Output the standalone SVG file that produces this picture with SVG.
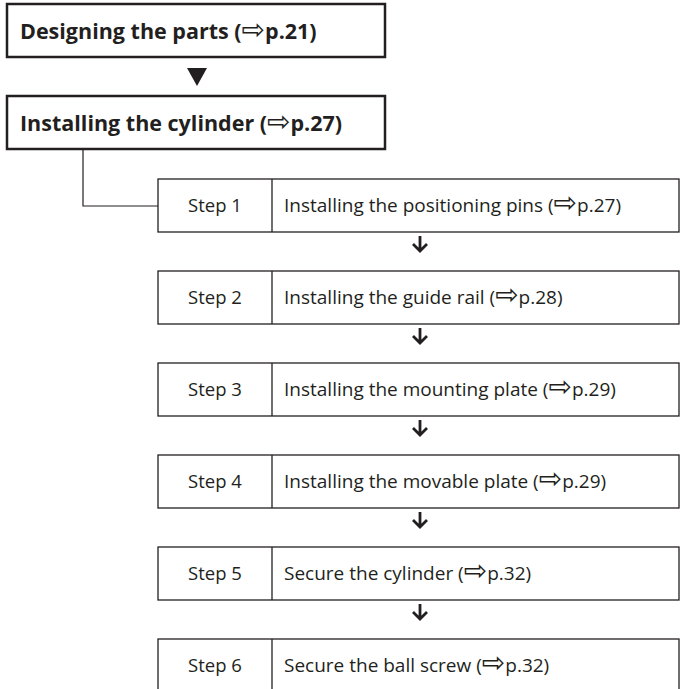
<svg xmlns="http://www.w3.org/2000/svg" width="680" height="689" viewBox="0 0 680 689">
<style>
.main{fill:#fff;stroke:#231f20;stroke-width:2.5}
.step{fill:#fff;stroke:#231f20;stroke-width:1.3}
.div{stroke:#231f20;stroke-width:1.3}
.t1{font-family:"Open Sans","Liberation Sans",sans-serif;font-weight:bold;font-size:21.5px;fill:#231f20}
.t2{font-family:"Open Sans","Liberation Sans",sans-serif;font-size:18.5px;fill:#231f20}
.t3{font-family:"Open Sans","Liberation Sans",sans-serif;font-size:19px;fill:#231f20}
.ar{font-family:"DejaVu Sans",sans-serif;font-size:28px;font-weight:normal}
.conn{fill:none;stroke:#231f20;stroke-width:1.2}
.dn{fill:none;stroke:#231f20;stroke-width:2.8;stroke-linejoin:miter}
</style>
<rect width="680" height="689" fill="#fff"/>
<g id="connectors">
<polygon points="187,68 207,68 197,86" fill="#231f20"/>
<polyline class="conn" points="83,149 83,206 158,206"/>
<g id="down-arrows">
<path class="dn" d="M420,236V251M413,244L420,251L427,244"/>
<path class="dn" d="M420,328V343M413,336L420,343L427,336"/>
<path class="dn" d="M420,420V435M413,428L420,435L427,428"/>
<path class="dn" d="M420,512V527M413,520L420,527L427,520"/>
<path class="dn" d="M420,604V619M413,612L420,619L427,612"/>
</g>
</g>
<g id="node-design">
<rect class="main" x="7" y="4" width="378" height="53"/>
<text class="t1" x="20" y="39">Designing the parts (<tspan class="ar">⇨</tspan>p.21)</text>
</g>
<g id="node-install">
<rect class="main" x="7" y="96" width="378" height="53"/>
<text class="t1" x="20" y="131">Installing the cylinder (<tspan class="ar">⇨</tspan>p.27)</text>
</g>
<g id="step1">
<rect class="step" x="158" y="179" width="521" height="53"/>
<line class="div" x1="272" y1="179" x2="272" y2="232"/>
<text class="t2" x="215" y="212" text-anchor="middle">Step 1</text>
<text class="t3" x="284" y="212">Installing the positioning pins (<tspan class="ar">⇨</tspan>p.27)</text>
</g>
<g id="step2">
<rect class="step" x="158" y="271" width="521" height="53"/>
<line class="div" x1="272" y1="271" x2="272" y2="324"/>
<text class="t2" x="215" y="304" text-anchor="middle">Step 2</text>
<text class="t3" x="284" y="304">Installing the guide rail (<tspan class="ar">⇨</tspan>p.28)</text>
</g>
<g id="step3">
<rect class="step" x="158" y="363" width="521" height="53"/>
<line class="div" x1="272" y1="363" x2="272" y2="416"/>
<text class="t2" x="215" y="396" text-anchor="middle">Step 3</text>
<text class="t3" x="284" y="396">Installing the mounting plate (<tspan class="ar">⇨</tspan>p.29)</text>
</g>
<g id="step4">
<rect class="step" x="158" y="455" width="521" height="53"/>
<line class="div" x1="272" y1="455" x2="272" y2="508"/>
<text class="t2" x="215" y="488" text-anchor="middle">Step 4</text>
<text class="t3" x="284" y="488">Installing the movable plate (<tspan class="ar">⇨</tspan>p.29)</text>
</g>
<g id="step5">
<rect class="step" x="158" y="547" width="521" height="53"/>
<line class="div" x1="272" y1="547" x2="272" y2="600"/>
<text class="t2" x="215" y="580" text-anchor="middle">Step 5</text>
<text class="t3" x="284" y="580">Secure the cylinder (<tspan class="ar">⇨</tspan>p.32)</text>
</g>
<g id="step6">
<rect class="step" x="158" y="639" width="521" height="53"/>
<line class="div" x1="272" y1="639" x2="272" y2="692"/>
<text class="t2" x="215" y="672" text-anchor="middle">Step 6</text>
<text class="t3" x="284" y="672">Secure the ball screw (<tspan class="ar">⇨</tspan>p.32)</text>
</g>
</svg>
